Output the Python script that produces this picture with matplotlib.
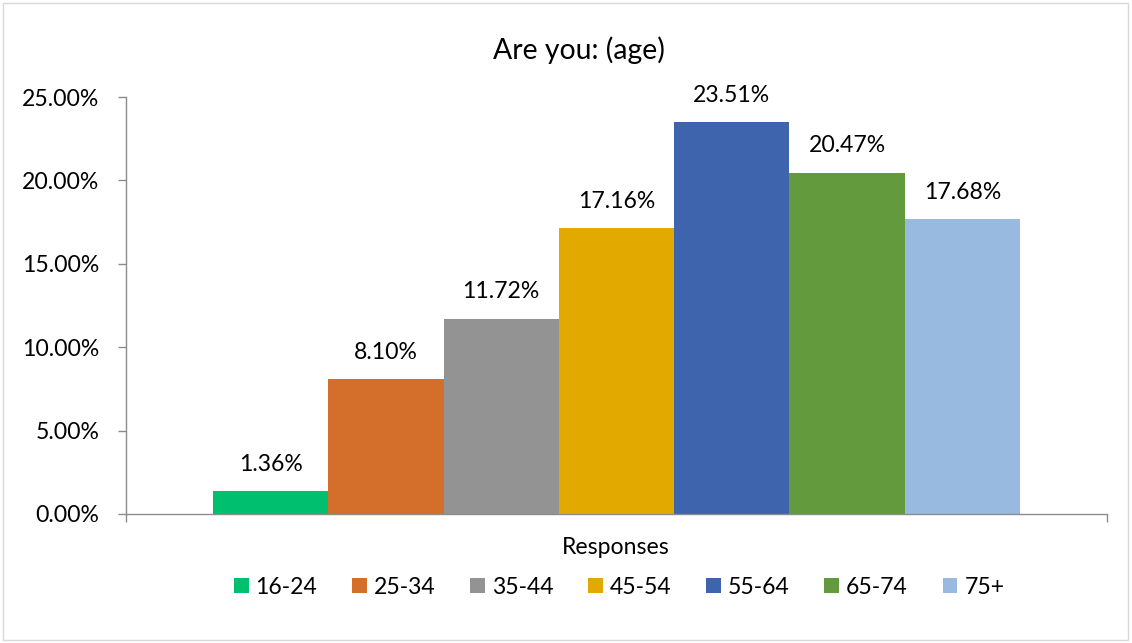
import matplotlib.pyplot as plt
from matplotlib.patches import Patch, Rectangle
from matplotlib.ticker import FuncFormatter

plt.rcParams['font.family'] = ['Lato', 'DejaVu Sans']

age_groups = ["16-24", "25-34", "35-44", "45-54", "55-64", "65-74", "75+"]
shares = [1.36, 8.10, 11.72, 17.16, 23.51, 20.47, 17.68]
colors = ["#00BF6F", "#D36E2B", "#939393", "#E2AA00", "#3D64AD", "#629A3D", "#98B9E0"]

fs = 16.6

fig = plt.figure(figsize=(11.32, 6.43), dpi=100)
ax = fig.add_axes([126 / 1132, 1 - 514 / 643, (1107 - 126) / 1132, (514 - 97) / 643])

axis_grey = "#8C8C8C"
width = 807 / 981 / 7
for i, (lab, val, col) in enumerate(zip(age_groups, shares, colors)):
    x = (i - 3) * width
    ax.bar(x, val, width=width, color=col, label=lab)
    ax.text(x, val + 1.6, f"{val:.2f}%", ha="center", va="center", fontsize=fs, color="#000000")

ax.set_xlim(-0.5, 0.5)
ax.set_ylim(0, 25)
ax.set_yticks([0, 5, 10, 15, 20, 25])
ax.yaxis.set_major_formatter(FuncFormatter(lambda v, p: f"{v:.2f}%"))
ax.set_xticks([-0.5, 0.5])
ax.set_xticklabels(["", ""])
ax.tick_params(axis="both", colors=axis_grey, labelcolor="#000000", labelsize=fs, length=6, width=1)
ax.tick_params(axis="y", pad=13)
for s in ["top", "right"]:
    ax.spines[s].set_visible(False)
for s in ["left", "bottom"]:
    ax.spines[s].set_color(axis_grey)
    ax.spines[s].set_linewidth(1)

fig.text(579 / 1132, 1 - 50 / 643, "Are you: (age)", ha="center", va="center", fontsize=20.4)
fig.text(616 / 1132, 1 - 548 / 643, "Responses", ha="center", va="center", fontsize=fs)

handles = [Patch(facecolor=c, edgecolor="none") for c in colors]
fig.legend(handles, age_groups, loc="center", bbox_to_anchor=(619 / 1132, 1 - 587 / 643),
           ncol=7, frameon=False, fontsize=fs, handlelength=0.65, handleheight=0.65,
           handletextpad=0.3, columnspacing=1.5)

fig.patches.append(Rectangle((3 / 1132, 3 / 643), 1125 / 1132, 637 / 643, transform=fig.transFigure,
                             fill=False, edgecolor="#D9D9D9", linewidth=1))

fig.savefig("out.png", dpi=100)
